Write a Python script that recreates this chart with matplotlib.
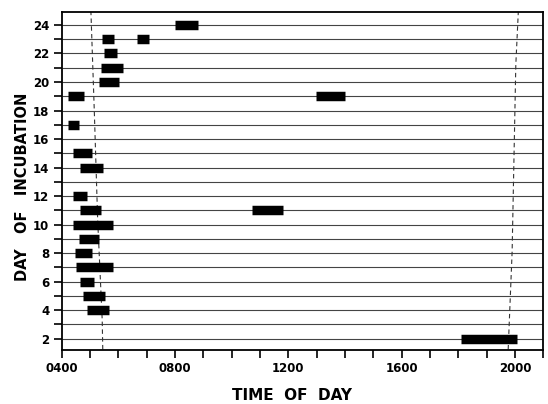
import matplotlib.pyplot as plt
from matplotlib.ticker import MultipleLocator

# day of incubation and activity bouts (decimal hours)
bout_days = [24, 23, 23, 22, 21, 20, 19, 19, 17, 15, 14, 12, 11, 11, 10, 9, 8, 7, 6, 5, 4, 2]
bout_start = [8.00, 5.43, 6.67, 5.48, 5.38, 5.32, 4.23, 12.97, 4.21, 4.41, 4.64, 4.39,
              4.66, 10.73, 4.41, 4.61, 4.46, 4.49, 4.64, 4.74, 4.90, 18.08]
bout_end = [8.81, 5.83, 7.09, 5.94, 6.15, 6.02, 4.79, 14.01, 4.61, 5.06, 5.47, 4.88,
            5.40, 11.80, 5.82, 5.32, 5.07, 5.82, 5.13, 5.52, 5.66, 20.06]

# dashed sunrise / sunset curves
sunrise_day = [25, 18, 10.3, 3.3, 1.2]
sunrise_hr = [5.03, 5.15, 5.27, 5.43, 5.45]
sunset_day = [25, 21.2, 8.1, 1.2]
sunset_hr = [20.12, 20.03, 19.90, 19.76]

grid_days = list(range(2, 25))
x_ticks = [4, 8, 12, 16, 20]
x_labels = ["0400", "0800", "1200", "1600", "2000"]
y_ticks = list(range(2, 25, 2))


def main() -> None:
    plt.rcParams["font.family"] = ["DejaVu Sans"]
    plt.rcParams["font.weight"] = "bold"

    fig = plt.figure(figsize=(5.48, 4.04), dpi=100)
    ax = fig.add_axes([0.1126, 0.1337, 0.8788, 0.8373])

    ax.hlines(grid_days, 4, 21, color="#444444", linewidth=0.8, zorder=1)
    ax.plot(sunrise_hr, sunrise_day, color="#333333", linewidth=0.8,
            linestyle=(0, (4, 3)), zorder=2)
    ax.plot(sunset_hr, sunset_day, color="#333333", linewidth=0.8,
            linestyle=(0, (4, 3)), zorder=2)
    ax.hlines(bout_days, bout_start, bout_end, color="black", linewidth=6.8,
              capstyle="butt", zorder=3)

    ax.set_xlim(4, 21)
    ax.set_ylim(1.2, 24.93)
    ax.set_xticks(x_ticks)
    ax.set_xticklabels(x_labels)
    ax.xaxis.set_minor_locator(MultipleLocator(1))
    ax.set_yticks(y_ticks)
    ax.yaxis.set_minor_locator(MultipleLocator(1))
    ax.tick_params(axis="both", which="both", direction="out", length=6, width=1.2,
                   labelsize=8.5, pad=3)
    for s in ax.spines.values():
        s.set_linewidth(1.3)

    fig.text(292 / 548, 1 - 396 / 404, "TIME  OF  DAY", fontsize=11,
             fontweight="bold", ha="center", va="center")
    fig.text(23 / 548, 1 - 187 / 404, "DAY   OF   INCUBATION", fontsize=10.5,
             fontweight="bold", ha="center", va="center", rotation=90)

    fig.savefig("out.png", dpi=100)
    plt.close(fig)


if __name__ == "__main__":
    main()
